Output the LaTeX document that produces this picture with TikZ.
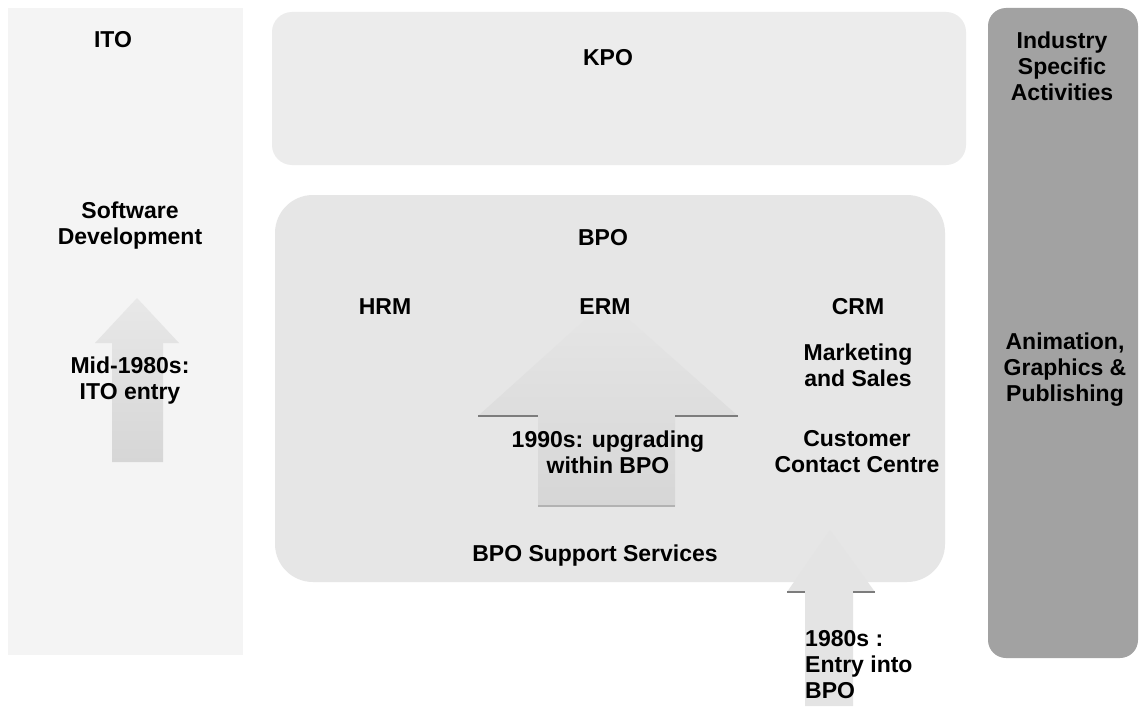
\documentclass[tikz,border=0pt]{standalone}
\usepackage{fontspec}
\setmainfont{Liberation Sans}
\definecolor{itocol}{HTML}{F4F4F4}
\definecolor{itoarrtop}{HTML}{E8E8E8}
\definecolor{kpocol}{HTML}{ECECEC}
\definecolor{bpocol}{HTML}{E6E6E6}
\definecolor{indcol}{HTML}{A2A2A2}
\definecolor{arrlo}{HTML}{D6D6D6}
\definecolor{entrycol}{HTML}{E4E4E4}
\definecolor{wingcol}{HTML}{7C7C7C}
\begin{document}
\begin{tikzpicture}[x=1pt,y=-1pt,
  lab/.style={font=\bfseries\fontsize{23}{26}\selectfont, align=center, inner sep=0pt, text=black},
  labl/.style={lab, align=left, anchor=north west},
  wing/.style={draw=wingcol, line width=1.6pt}]
\useasboundingbox (0,0) rectangle (1139,706);
\fill[white] (0,0) rectangle (1139,706);
% panels
\fill[itocol] (8,8) rectangle (243,655);
\fill[kpocol, rounded corners=20pt] (272,12) rectangle (966,165);
\fill[bpocol, rounded corners=38pt] (275,195) rectangle (945,582);
\fill[indcol, rounded corners=18pt] (988,8) rectangle (1138,658);
% ITO arrow
\shade[top color=itoarrtop, bottom color=arrlo]
  (137,298) -- (179,343) -- (163,343) -- (163,462) -- (112,462) -- (112,343) -- (95,343) -- cycle;
% BPO upgrading arrow
\shade[top color=bpocol, middle color=bpocol, bottom color=arrlo]
  (607,300) -- (738,416) -- (675,416) -- (675,506) -- (538,506) -- (538,416) -- (478,416) -- cycle;
\draw[wing] (478,416) -- (538,416);
\draw[wing] (675,416) -- (738,416);
\draw[draw=black!30, line width=1.2pt] (538,506) -- (675,506);
% entry into BPO arrow
\fill[entrycol]
  (830,530) -- (875,592) -- (853,592) -- (853,706) -- (805,706) -- (805,592) -- (787,592) -- cycle;
\draw[wing] (787,592) -- (805,592);
\draw[wing] (853,592) -- (875,592);
% labels
\node[lab] (ito) at (113,40) {ITO};
\node[lab] (kpo) at (608,58) {KPO};
\node[lab] (sw) at (130,226) {Software\\Development};
\node[lab] (ie) at (130,381) {Mid-1980s:\\ITO entry};
\node[lab] (bpo) at (603,238) {BPO};
\node[lab] (hrm) at (385,307) {HRM};
\node[lab] (erm) at (605,307) {ERM};
\node[lab] (crm) at (858,307) {CRM};
\node[lab] (ms) at (858,365) {Marketing\\and Sales};
\node[lab] (ccc) at (857,452) {Customer\\Contact Centre};
\node[lab] (upg) at (608,452) {1990s: upgrading\\within BPO};
\node[lab] (sup) at (595,556) {BPO Support Services};
\node[labl] (entry) at (805,630) {1980s :\\Entry into\\BPO};
\node[lab] (isa) at (1062,66) {Industry\\Specific\\Activities};
\node[lab] (agp) at (1065,370) {Animation,\\Graphics \&\\Publishing};
\end{tikzpicture}
\end{document}
